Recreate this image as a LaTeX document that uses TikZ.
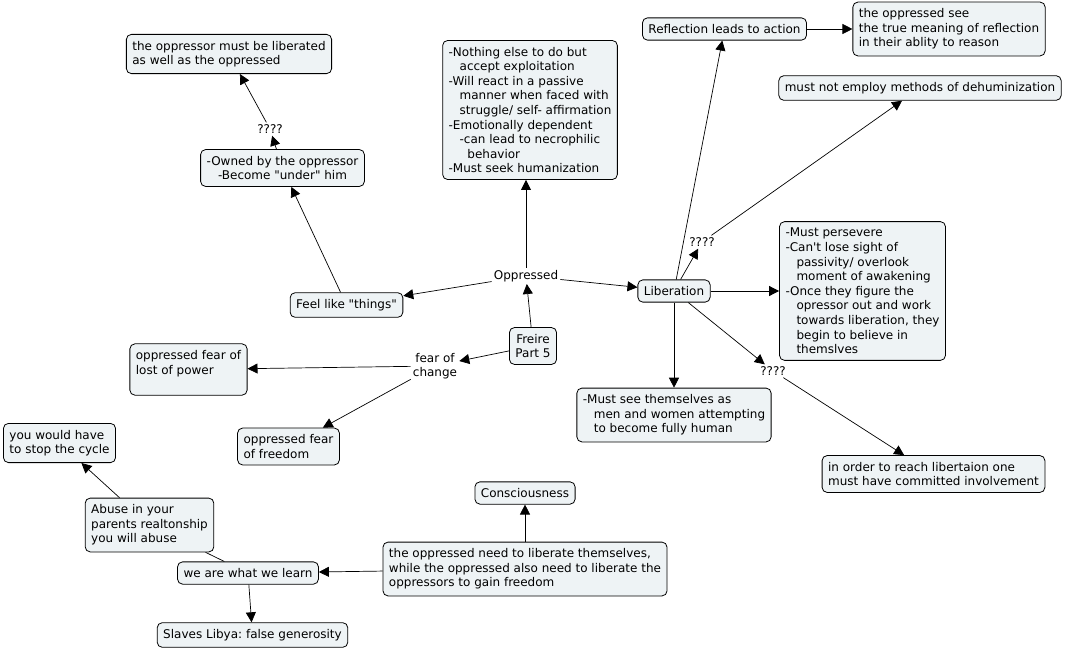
\documentclass[tikz,border=0pt]{standalone}
\usepackage{fontspec}
\setmainfont{DejaVu Sans}
\usetikzlibrary{arrows.meta}
\definecolor{conceptfill}{RGB}{238,243,245}
\tikzset{
  concept/.style = {draw, fill = conceptfill, rounded corners = 5pt, line width = 0.8pt,
                    inner xsep = 6pt, inner ysep = 6.5pt, align = left},
  phrase/.style  = {inner sep = 2pt, align = center},
  link/.style    = {line width = 0.7pt, -{Triangle[length = 10pt, width = 10pt]}},
  plainlink/.style = {line width = 0.7pt}
}
\newcommand{\ind}{\hspace*{11pt}}
\newcommand{\dq}{\textquotedbl}
\frenchspacing
\begin{document}
\begin{tikzpicture}[x = 1pt, y = -1pt, font = \fontsize{12}{14.6}\selectfont]
            \useasboundingbox (0, 0) rectangle (1065, 651);
            % concepts
            \node[concept, align = center] (freire) at (533, 346) {Freire\\Part 5};
            \node[concept] (opplib) at (229, 54) {the oppressor must be liberated\\as well as the oppressed};
            \node[concept, align = center] (owned) at (282.5, 168) {-Owned by the oppressor\\-Become \dq under\dq{} him};
            \node[concept] (things) at (346.5, 305) {Feel like \dq things\dq};
            \node[concept] (nothing) at (530, 110) {-Nothing else to do but\\\ind accept exploitation\\-Will react in a passive\\\ind manner when faced with\\\ind struggle/ self- affirmation\\-Emotionally dependent\\\ind -can lead to necrophilic\\\ind\hspace*{4pt} behavior\\-Must seek humanization};
            \node[concept] (reflect) at (724.5, 29) {Reflection leads to action};
            \node[concept] (seerefl) at (949, 29) {the oppressed see\\the true meaning of reflection\\in their ablity to reason};
            \node[concept] (dehum) at (920, 88) {must not employ methods of dehuminization};
            \node[concept] (liberation) at (674, 291) {Liberation};
            \node[concept] (persevere) at (862.5, 291) {-Must persevere\\-Can\textquotesingle t lose sight of\\\ind passivity/ overlook\\\ind moment of awakening\\-Once they figure the\\\ind opressor out and work\\\ind towards liberation, they\\\ind begin to believe in\\\ind themslves};
            \node[concept] (fullyhuman) at (674, 415) {-Must see themselves as\\\ind men and women attempting\\\ind to become fully human};
            \node[concept] (commit) at (933.5, 474) {in order to reach libertaion one\\must have committed involvement};
            \node[concept] (lostpower) at (188.5, 369.5) {oppressed fear of\\lost of power\\\mbox{}};
            \node[concept] (fearfreedom) at (288.5, 446.5) {oppressed fear\\of freedom};
            \node[concept] (cycle) at (59.5, 443) {you would have\\to stop the cycle};
            \node[concept] (abuse) at (149.5, 525) {Abuse in your\\parents realtonship\\you will abuse};
            \node[concept] (learn) at (248, 573) {we are what we learn};
            \node[concept] (slaves) at (252.5, 635) {Slaves Libya: false generosity};
            \node[concept] (liberatethem) at (525, 569) {the oppressed need to liberate themselves,\\while the oppressed also need to liberate the\\oppressors to gain freedom};
            \node[concept] (conscious) at (525, 493) {Consciousness};
            % linking phrases
            \node[phrase] (oppressed) at (526, 276) {Oppressed};
            \node[phrase] (fear) at (435, 366) {fear of\\change};
            \node[phrase] (qowned) at (270, 129) {????};
            \node[phrase] (qdehum) at (702, 242) {????};
            \node[phrase] (qcommit) at (773, 371) {????};
            % connectors
            \draw[link] (freire) -- (oppressed);
            \draw[link] (oppressed) -- (things);
            \draw[link] (oppressed) -- (oppressed |- nothing.south);
            \draw[link] (oppressed) -- (liberation);
            \draw[link] (things) -- (owned);
            \draw[link] (owned) -- (qowned);
            \draw[link] (qowned) -- (opplib);
            \draw[link] (freire) -- (fear);
            \draw[link] (fear) -- (lostpower);
            \draw[link] (fear) -- (fearfreedom);
            \draw[link] (liberation) -- (reflect);
            \draw[link] (reflect) -- (seerefl);
            \draw[link] (liberation) -- (qdehum);
            \draw[link] (qdehum) -- (dehum);
            \draw[link] (liberation) -- (persevere);
            \draw[link] (liberation) -- (fullyhuman);
            \draw[link] (liberation) -- (qcommit);
            \draw[link] (qcommit) -- (commit);
            \draw[link] (liberatethem) -- (conscious);
            \draw[link] (liberatethem) -- (learn);
            \draw[link] (learn) -- (slaves);
            \draw[link] (abuse) -- (cycle);
            \draw[plainlink] (abuse) -- (learn);
        \end{tikzpicture}
\end{document}
